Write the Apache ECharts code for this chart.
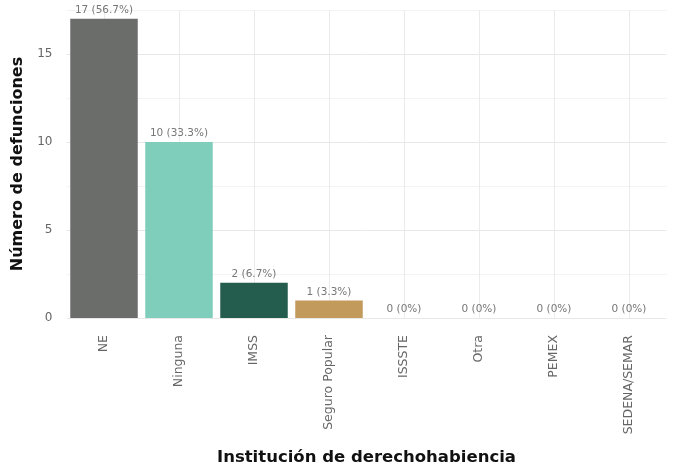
<!DOCTYPE html>
<html>
<head>
<meta charset="utf-8">
<script src="https://cdn.jsdelivr.net/npm/echarts@6/dist/echarts.min.js"></script>
<style>
  html, body { margin: 0; padding: 0; background: #fff; }
  #chart { width: 681px; height: 471px; }
</style>
</head>
<body>
<div id="chart"></div>
<script>
var categories = ['NE', 'Ninguna', 'IMSS', 'Seguro Popular', 'ISSSTE', 'Otra', 'PEMEX', 'SEDENA/SEMAR'];
var values = [17, 10, 2, 1, 0, 0, 0, 0];
var barColors = ['#6b6d6b', '#7fcdbb', '#245c4e', '#c29a5c', '#999999', '#999999', '#999999', '#999999'];

var total = values.reduce(function (a, b) { return a + b; }, 0);

var chartDom = document.getElementById('chart');
var myChart = echarts.init(chartDom);

var fontFam = '"DejaVu Sans", sans-serif';

var option = {
  animation: false,
  grid: { left: 66.5, right: 14.5, top: 10, bottom: 153 },
  xAxis: {
    type: 'category',
    data: categories,
    axisLine: { show: false },
    axisTick: { show: false },
    splitLine: { show: true, alignWithLabel: true, lineStyle: { color: '#ebebeb', width: 1 } },
    axisLabel: {
      rotate: 90,
      margin: 17,
      color: '#666',
      fontSize: 12.5,
      fontFamily: fontFam,
      interval: 0
    },
    name: 'Institución de derechohabiencia',
    nameLocation: 'middle',
    nameGap: 131,
    nameTextStyle: { fontSize: 16.5, fontWeight: 'bold', color: '#111', fontFamily: fontFam }
  },
  yAxis: {
    type: 'value',
    min: 0,
    max: 17.5,
    interval: 2.5,
    axisLine: { show: false },
    axisTick: { show: false },
    splitLine: { show: true, lineStyle: { color: ['#e8e8e8', '#f3f3f3'], width: 1 } },
    axisLabel: {
      color: '#666',
      fontSize: 12,
      fontFamily: fontFam,
      margin: 14,
      formatter: function (v) { return v % 5 === 0 ? String(v) : ''; }
    },
    name: 'Número de defunciones',
    nameLocation: 'middle',
    nameGap: 35,
    nameTextStyle: { fontSize: 16, fontWeight: 'bold', color: '#111', fontFamily: fontFam }
  },
  series: [{
    type: 'bar',
    barCategoryGap: '10%',
    data: values.map(function (v, i) {
      return { value: v, itemStyle: { color: barColors[i] } };
    }),
    label: {
      show: true,
      position: 'top',
      distance: 3,
      color: '#777',
      fontSize: 10.5,
      fontFamily: fontFam,
      formatter: function (p) {
        var pct = total ? Math.round(p.value / total * 1000) / 10 : 0;
        return p.value + ' (' + pct + '%)';
      }
    }
  }]
};

myChart.setOption(option);
</script>
</body>
</html>
